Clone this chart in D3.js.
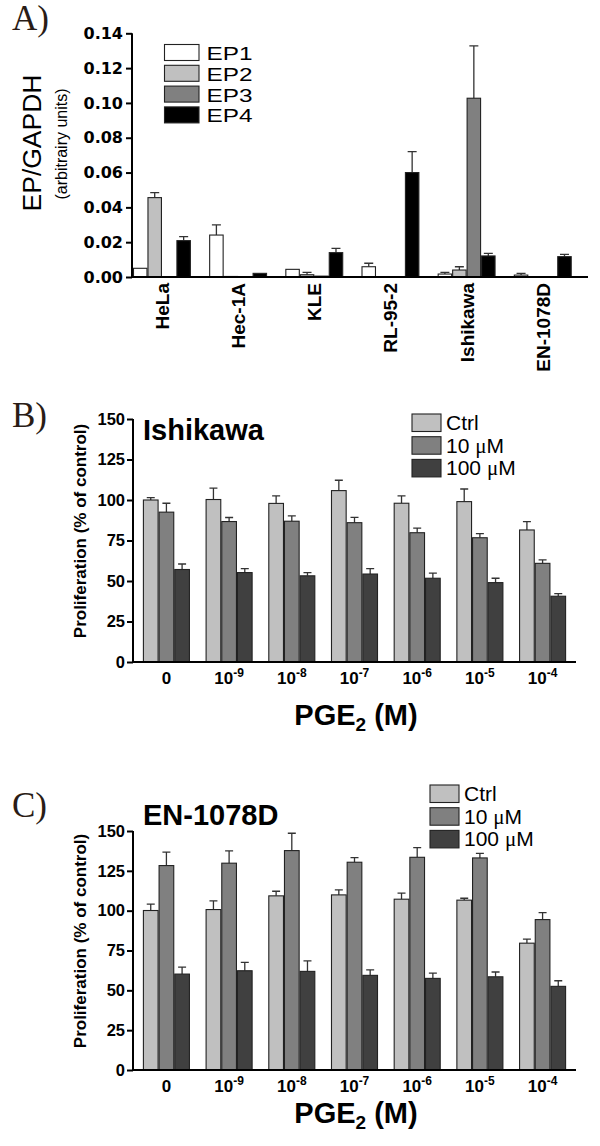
<!DOCTYPE html>
<html><head><meta charset="utf-8">
<script src="https://cdn.jsdelivr.net/npm/d3@7"></script>
<style>
body{margin:0;background:#fff;}
svg{display:block;}
</style></head>
<body>
<svg id="chart" width="600" height="1146"></svg>
<script>
// ---------- Panel A data ----------
const epCategories = ["HeLa","Hec-1A","KLE","RL-95-2","Ishikawa","EN-1078D"];
const epSeries = ["EP1","EP2","EP3","EP4"];
const ep1 = [0.0050,0.0241,0.0044,0.0059,0.0017,0.0011];
const ep1Top = [0.0052,0.0299,0.0046,0.0079,0.0027,0.0021];
const ep2 = [0.0456,0.0003,0.0013,0,0.0040,0];
const ep2Top = [0.0485,0.0003,0.0027,0,0.0059,0];
const ep3 = [0,0,0.0005,0,0.1027,0];
const ep3Top = [0,0,0.0005,0,0.1328,0];
const ep4 = [0.0209,0.0021,0.0140,0.0600,0.0121,0.0117];
const ep4Top = [0.0232,0.0023,0.0165,0.0720,0.0136,0.0130];
const epTicks = [0,0.02,0.04,0.06,0.08,0.10,0.12,0.14];

// ---------- Panels B/C data ----------
const doseBase = ["0","10","10","10","10","10","10"];
const doseExp  = ["","-9","-8","-7","-6","-5","-4"];
const treatments = ["Ctrl","10 \u03bcM","100 \u03bcM"];
const pctTicks = [0,25,50,75,100,125,150];

const ishCtrl = [100,100.3,97.9,105.8,98,99,81.5];
const ishCtrlTop = [101.5,107.3,102.6,112.2,102.5,106.8,86.6];
const ish10 = [92.5,86.7,86.9,86,79.8,76.7,60.9];
const ish10Top = [98,89.2,90.2,89.3,82.7,79.2,63];
const ish100 = [57.1,55.2,53.2,54.3,51.7,49,40.6];
const ish100Top = [60.5,57.7,55.2,57.6,54.9,51.7,42.2];

const enCtrl = [100.1,100.7,109.3,109.9,107.2,106.6,79.6];
const enCtrlTop = [104.1,106.1,112.2,113,111,107.8,82.1];
const en10 = [128.3,129.8,137.7,130.4,133.5,133.1,94.4];
const en10Top = [136.8,137.5,148.6,133.3,139.6,136,98.8];
const en100 = [60.2,62.3,61.9,59.4,57.5,58.5,52.5];
const en100Top = [64.6,67.5,68.5,62.9,60.8,61.5,56];

const epColors = ["#ffffff","#c0c0c0","#808080","#000000"];
const trtColors = ["#c0c0c0","#808080","#404040"];

const SANS = "'Liberation Sans', Arial, Helvetica, sans-serif";
const SERIF = "'Liberation Serif', 'Times New Roman', serif";
const svg = d3.select("#chart");

function panelLetter(txt, x, y){
  svg.append("text").attr("x",x).attr("y",y).text(txt)
    .attr("font-family",SERIF).attr("font-size",35).attr("fill","#2a1c16");
}

// ================= Panel A =================
(function(){
  const y = d3.scaleLinear().domain([0,0.14]).range([277,33.3]);
  const x0 = d3.scaleBand().domain(epCategories).range([133,590]).paddingInner(0.24).paddingOuter(0.12).align(0);
  const x1 = d3.scaleBand().domain(epSeries).range([0,x0.bandwidth()]);
  const vals = [ep1,ep2,ep3,ep4], tops=[ep1Top,ep2Top,ep3Top,ep4Top];
  const g = svg.append("g");
  const data = [];
  epCategories.forEach((c,i)=>epSeries.forEach((s,j)=>data.push({c,s,j,v:vals[j][i],t:tops[j][i]})));
  const eb = data.filter(d=>d.t>d.v+0.0003);
  g.selectAll(".eA").data(eb).enter().append("path")
    .attr("d",d=>{const cx=x0(d.c)+x1(d.s)+x1.bandwidth()/2; return `M${cx},${y(d.v)}V${y(d.t)}M${cx-4.5},${y(d.t)}H${cx+4.5}`;})
    .attr("stroke","#333").attr("stroke-width",1.3).attr("fill","none");
  g.selectAll(".bA").data(data.filter(d=>d.v>0)).enter().append("rect")
    .attr("x",d=>x0(d.c)+x1(d.s)+0.5).attr("width",x1.bandwidth()-1)
    .attr("y",d=>y(d.v)).attr("height",d=>y(0)-y(d.v))
    .attr("fill",d=>epColors[d.j]).attr("stroke","#222").attr("stroke-width",1.1);
  const ya = g.append("g").attr("transform","translate(132,0)")
    .call(d3.axisLeft(y).tickValues(epTicks).tickFormat(d3.format(".2f")).tickSize(6).tickPadding(3));
  ya.select(".domain").attr("stroke","#000").attr("stroke-width",2).attr("d","M0,33.3V277");
  ya.selectAll(".tick line").attr("stroke","#000").attr("stroke-width",2);
  ya.selectAll("text").attr("font-family","'DejaVu Sans', sans-serif").attr("font-weight","bold").attr("font-size",16).attr("fill","#000");
  g.append("line").attr("x1",131).attr("x2",588).attr("y1",y(0)).attr("y2",y(0)).attr("stroke","#000").attr("stroke-width",2);
  g.selectAll(".cl").data(epCategories).enter().append("text")
    .attr("transform",d=>`translate(${x0(d)+x0.bandwidth()/2+7},283) rotate(-90)`)
    .attr("text-anchor","end").text(d=>d)
    .attr("font-family",SANS).attr("font-weight","bold").attr("font-size",19);
  g.append("text").attr("transform","translate(41,143) rotate(-90)").attr("text-anchor","middle")
    .text("EP/GAPDH").attr("font-family",SANS).attr("font-size",26.5);
  g.append("text").attr("transform","translate(67,144) rotate(-90)").attr("text-anchor","middle")
    .text("(arbitrairy units)").attr("font-family",SANS).attr("font-size",16);
  const lg = g.selectAll(".lgA").data(epSeries).enter().append("g")
    .attr("transform",(d,i)=>`translate(164.5,${44.5+i*20.8})`);
  lg.append("rect").attr("width",34.5).attr("height",16).attr("fill",(d,i)=>epColors[i]).attr("stroke","#222").attr("stroke-width",1.1);
  lg.append("text").attr("x",42).attr("y",15.5).text(d=>d).attr("font-family",SANS).attr("font-size",19)
    .attr("textLength",46).attr("lengthAdjust","spacingAndGlyphs");
  panelLetter("A)",12,30);
})();

// ================= Panels B/C =================
function dosePanel(o){
  const y = d3.scaleLinear().domain([0,150]).range([o.y0,o.y150]);
  const x0 = d3.scaleBand().domain(d3.range(doseBase.length)).range([133,576]).paddingInner(0.25).paddingOuter(0.158);
  const x1 = d3.scaleBand().domain(treatments).range([0,x0.bandwidth()]);
  const g = svg.append("g");
  const data=[];
  doseBase.forEach((b,i)=>treatments.forEach((t,j)=>data.push({i,t,j,v:o.vals[j][i],top:o.tops[j][i]})));
  g.selectAll(".e").data(data.filter(d=>d.top>d.v)).enter().append("path")
    .attr("d",d=>{const cx=x0(d.i)+x1(d.t)+x1.bandwidth()/2; return `M${cx},${y(d.v)}V${y(d.top)}M${cx-4},${y(d.top)}H${cx+4}`;})
    .attr("stroke","#333").attr("stroke-width",1.3).attr("fill","none");
  g.selectAll(".b").data(data).enter().append("rect")
    .attr("x",d=>x0(d.i)+x1(d.t)+0.5).attr("width",x1.bandwidth()-1)
    .attr("y",d=>y(d.v)).attr("height",d=>y(0)-y(d.v))
    .attr("fill",d=>trtColors[d.j]).attr("stroke","#222").attr("stroke-width",1.1);
  const ya = g.append("g").attr("transform","translate(133,0)")
    .call(d3.axisLeft(y).tickValues(pctTicks).tickSize(6).tickPadding(2));
  ya.select(".domain").attr("stroke","#000").attr("stroke-width",2).attr("d",`M0,${o.y150}V${o.y0}`);
  ya.selectAll(".tick line").attr("stroke","#000").attr("stroke-width",2);
  ya.selectAll("text").attr("font-family",SANS).attr("font-weight","bold").attr("font-size",16.5).attr("fill","#000");
  g.append("line").attr("x1",132).attr("x2",576).attr("y1",y(0)).attr("y2",y(0)).attr("stroke","#000").attr("stroke-width",2);
  const xl = g.selectAll(".xl").data(doseBase).enter().append("text")
    .attr("x",(d,i)=>x0(i)+x0.bandwidth()/2).attr("y",y(0)+o.tickDy).attr("text-anchor","middle")
    .attr("font-family",SANS).attr("font-weight","bold").attr("font-size",17);
  xl.append("tspan").text(d=>d);
  xl.append("tspan").attr("dy",-7).attr("font-size",12).text((d,i)=>doseExp[i]);
  const xt = g.append("text").attr("x",356).attr("y",o.titleY).attr("text-anchor","middle")
    .attr("font-family",SANS).attr("font-weight","bold").attr("font-size",29);
  xt.append("tspan").text("PGE");
  xt.append("tspan").attr("dy",6).attr("font-size",19).text("2");
  xt.append("tspan").attr("dy",-6).text(" (M)");
  g.append("text").attr("transform",`translate(86,${o.yTitleC}) rotate(-90)`).attr("text-anchor","middle")
    .text("Proliferation (% of control)").attr("font-family",SANS).attr("font-weight","bold").attr("font-size",17);
  g.append("text").attr("x",143).attr("y",o.nameY).text(o.name)
    .attr("font-family",SANS).attr("font-weight","bold").attr("font-size",29);
  const lg = g.selectAll(".lg").data(treatments).enter().append("g")
    .attr("transform",(d,i)=>`translate(${o.legX},${o.legY+i*22.7})`);
  lg.append("rect").attr("width",29).attr("height",17.5).attr("fill",(d,i)=>trtColors[i]).attr("stroke","#222").attr("stroke-width",1.1);
  const lt = lg.append("text").attr("x",34).attr("y",16).attr("font-family",SANS).attr("font-size",21);
  lt.each(function(d){
    const t=d3.select(this); const parts=d.split("\u03bc");
    t.append("tspan").text(parts[0]);
    if(parts.length>1){ t.append("tspan").attr("font-family",SERIF).text("\u03bc"); t.append("tspan").text(parts[1]); }
  });
  panelLetter(o.letter,12,o.letterY);
}

dosePanel({y0:662,y150:419,tickDy:21.5,titleY:725,yTitleC:531,name:"Ishikawa",nameY:440,
  legX:412,legY:414,letter:"B)",letterY:427,
  vals:[ishCtrl,ish10,ish100],tops:[ishCtrlTop,ish10Top,ish100Top]});
dosePanel({y0:1070,y150:831,tickDy:21.5,titleY:1123,yTitleC:941,name:"EN-1078D",nameY:825,
  legX:430,legY:785,letter:"C)",letterY:817,
  vals:[enCtrl,en10,en100],tops:[enCtrlTop,en10Top,en100Top]});
</script>
</body></html>
